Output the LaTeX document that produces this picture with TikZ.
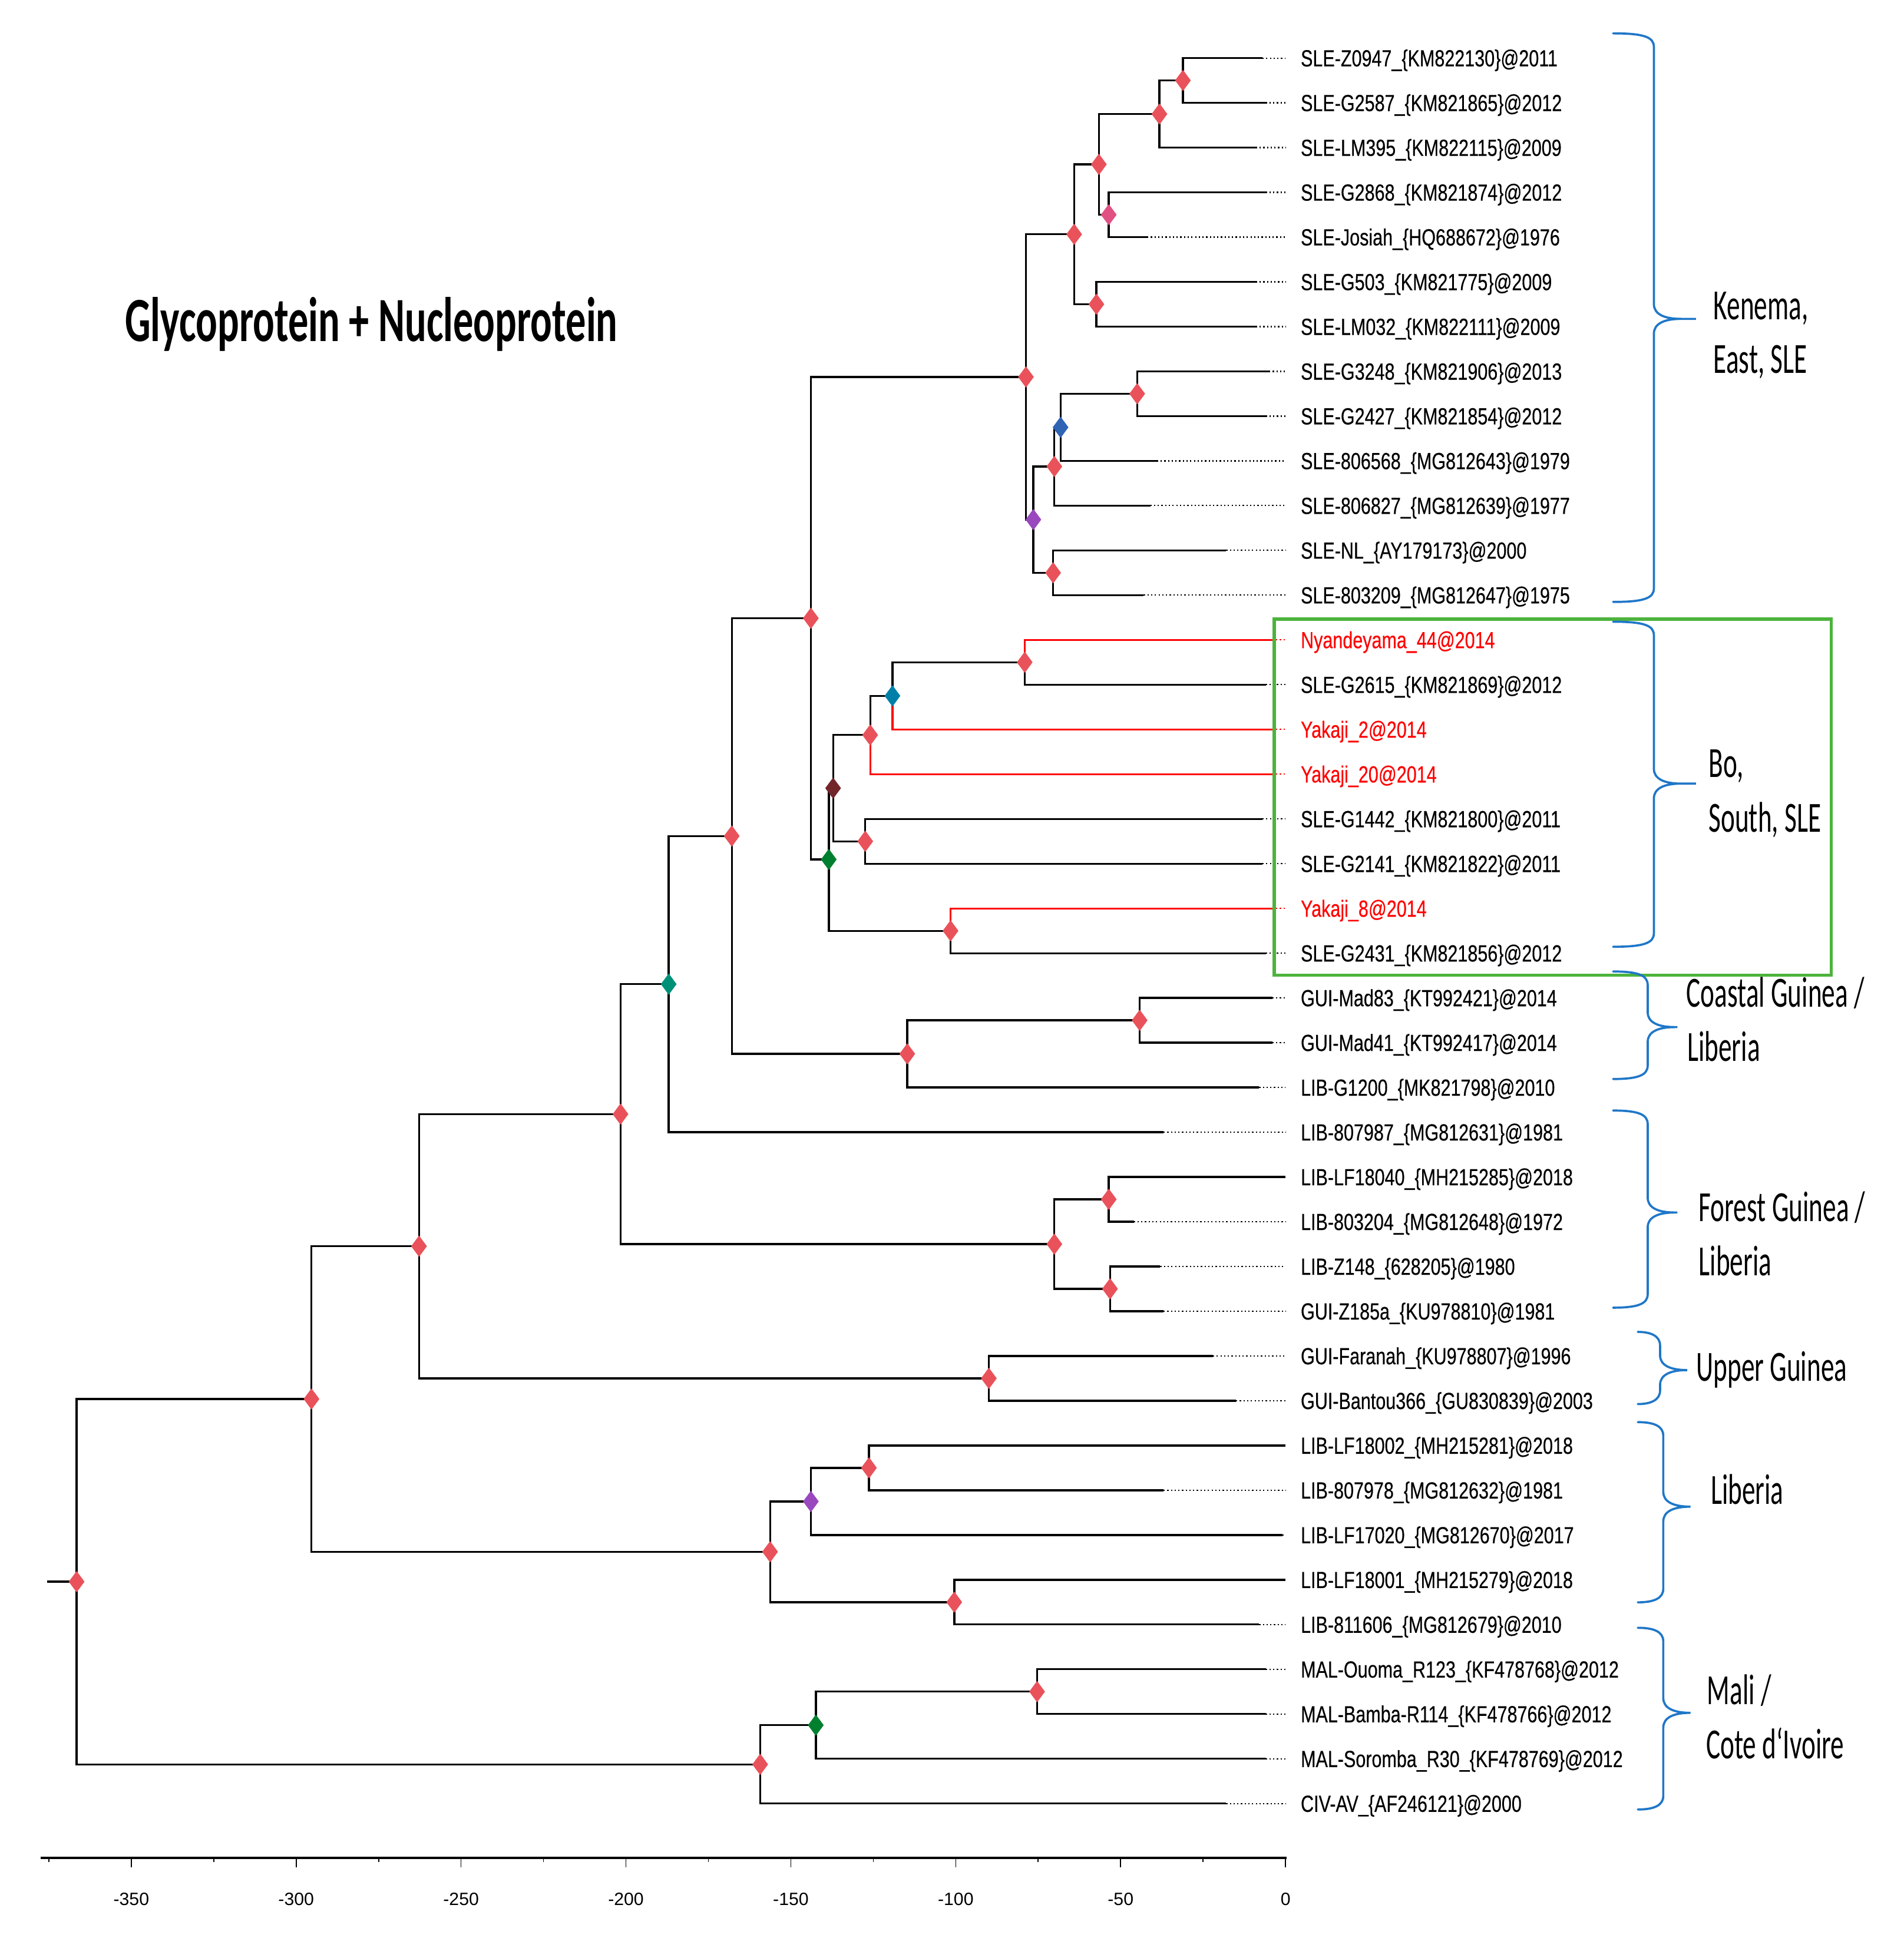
\documentclass[tikz,border=0pt]{standalone}
\usepackage{fontspec}
\usetikzlibrary{shapes.geometric}
\newfontfamily\leaffont[FakeStretch=0.77,FakeBold=0.35]{Liberation Sans}
\newfontfamily\axisfont{Liberation Sans}
\newfontfamily\cladefont[FakeStretch=0.62]{Carlito}
\newfontfamily\titlefont[FakeStretch=0.64]{Carlito}
\definecolor{dred}{HTML}{E9525A}
\definecolor{dpink}{HTML}{E05083}
\definecolor{dblue}{HTML}{2F64B4}
\definecolor{dpurple}{HTML}{9A48BE}
\definecolor{dteal}{HTML}{0080A8}
\definecolor{dmaroon}{HTML}{73262A}
\definecolor{dgreen}{HTML}{00802F}
\definecolor{dtealgreen}{HTML}{009078}
\definecolor{braceblue}{HTML}{1F77C8}
\definecolor{boxgreen}{HTML}{4DB33D}
\newcommand\cbrace[6]{%
  \draw[bracestyle] (#1,#3) .. controls ({#2-8},#3) and (#2,{#3+3}) .. (#2,{#3+11})
    -- (#2,{#4-12}) .. controls (#2,{#4-4}) and ({#2+8},#4) .. ({#2+22},#4) -- (#5,#4)
    -- ({#2+22},#4) .. controls ({#2+8},#4) and (#2,{#4+4}) .. (#2,{#4+12})
    -- (#2,{#6-11}) .. controls (#2,{#6-3}) and ({#2-8},#6) .. (#1,#6);}
\begin{document}
\begin{tikzpicture}[x=0.02cm,y=-0.02cm,
  branch/.style={line width=0.9pt,black},
  redbranch/.style={line width=0.9pt,red},
  tipdots/.style={line width=0.6pt,dash pattern=on 0.6pt off 1.1pt},
  dmd/.style={diamond,draw=none,fill=#1,inner sep=0pt,minimum width=0.26cm,minimum height=0.35cm},
  leaflab/.style={anchor=base west,inner sep=0pt,font=\leaffont\fontsize{10.75pt}{12pt}\selectfont},
  axislab/.style={anchor=base,inner sep=0pt,font=\axisfont\fontsize{8.2pt}{10pt}\selectfont},
  cladelab/.style={anchor=base west,inner sep=0pt,font=\cladefont\fontsize{19.8pt}{24pt}\selectfont},
  bracestyle/.style={line width=1pt,braceblue,line cap=round}
]
\useasboundingbox (0,0) rectangle (1540,1568);

% title
\node[anchor=base west,inner sep=0pt,font=\titlefont\bfseries\fontsize{29pt}{34pt}\selectfont] (title) at (100.8,276) {Glycoprotein + Nucleoprotein};

% leaves
\foreach \i/\yr/\txt/\col in {
 0/2011/SLE-Z0947\_\{KM822130\}/black,
 1/2012/SLE-G2587\_\{KM821865\}/black,
 2/2009/SLE-LM395\_\{KM822115\}/black,
 3/2012/SLE-G2868\_\{KM821874\}/black,
 4/1976/SLE-Josiah\_\{HQ688672\}/black,
 5/2009/SLE-G503\_\{KM821775\}/black,
 6/2009/SLE-LM032\_\{KM822111\}/black,
 7/2013/SLE-G3248\_\{KM821906\}/black,
 8/2012/SLE-G2427\_\{KM821854\}/black,
 9/1979/SLE-806568\_\{MG812643\}/black,
 10/1977/SLE-806827\_\{MG812639\}/black,
 11/2000/SLE-NL\_\{AY179173\}/black,
 12/1975/SLE-803209\_\{MG812647\}/black,
 13/2014/Nyandeyama\_44/red,
 14/2012/SLE-G2615\_\{KM821869\}/black,
 15/2014/Yakaji\_2/red,
 16/2014/Yakaji\_20/red,
 17/2011/SLE-G1442\_\{KM821800\}/black,
 18/2011/SLE-G2141\_\{KM821822\}/black,
 19/2014/Yakaji\_8/red,
 20/2012/SLE-G2431\_\{KM821856\}/black,
 21/2014/GUI-Mad83\_\{KT992421\}/black,
 22/2014/GUI-Mad41\_\{KT992417\}/black,
 23/2010/LIB-G1200\_\{MK821798\}/black,
 24/1981/LIB-807987\_\{MG812631\}/black,
 25/2018/LIB-LF18040\_\{MH215285\}/black,
 26/1972/LIB-803204\_\{MG812648\}/black,
 27/1980/LIB-Z148\_\{628205\}/black,
 28/1981/GUI-Z185a\_\{KU978810\}/black,
 29/1996/GUI-Faranah\_\{KU978807\}/black,
 30/2003/GUI-Bantou366\_\{GU830839\}/black,
 31/2018/LIB-LF18002\_\{MH215281\}/black,
 32/1981/LIB-807978\_\{MG812632\}/black,
 33/2017/LIB-LF17020\_\{MG812670\}/black,
 34/2018/LIB-LF18001\_\{MH215279\}/black,
 35/2010/LIB-811606\_\{MG812679\}/black,
 36/2012/MAL-Ouoma\_R123\_\{KF478768\}/black,
 37/2012/MAL-Bamba-R114\_\{KF478766\}/black,
 38/2012/MAL-Soromba\_R30\_\{KF478769\}/black,
 39/2000/CIV-AV\_\{AF246121\}/black}{
  \coordinate (t\i) at ({1040+2.668*(\yr-2018)},{47+36.21*\i});
  \coordinate (e\i) at (1040,{47+36.21*\i});
  \node[leaflab,text=\col] (l\i) at (1052,{47+36.21*\i+6.7}) {\txt @\yr};
  \draw[tipdots,\col] (t\i) -- (e\i);
}

% internal nodes
\coordinate (A1) at (957,65.1);
\coordinate (A2) at (938,92.26);
\coordinate (A4) at (897,173.74);
\coordinate (A3) at (889,133.0);
\coordinate (A6) at (887,246.16);
\coordinate (A5) at (869,189.58);
\coordinate (B1) at (920,318.58);
\coordinate (B2) at (858,345.73);
\coordinate (B3) at (853,377.42);
\coordinate (B5) at (852,463.42);
\coordinate (B4) at (836,420.42);
\coordinate (A7) at (830,305.0);
\coordinate (C1) at (829,535.84);
\coordinate (C2) at (722,563.0);
\coordinate (C3) at (704,594.68);
\coordinate (C4) at (700,680.68);
\coordinate (C5) at (674,637.68);
\coordinate (C6) at (769,753.1);
\coordinate (C7) at (670.5,695.39);
\coordinate (D1) at (656,500.2);
\coordinate (E1) at (922,825.52);
\coordinate (E2) at (734,852.68);
\coordinate (F1) at (592,676.44);
\coordinate (F2) at (541,796.24);
\coordinate (G1) at (897,970.36);
\coordinate (G2) at (898,1042.78);
\coordinate (G3) at (853,1006.57);
\coordinate (H1) at (502,901.4);
\coordinate (I1) at (800,1115.2);
\coordinate (H2) at (339,1008.3);
\coordinate (J1) at (703,1187.6);
\coordinate (J2) at (656,1214.8);
\coordinate (J3) at (772,1296.25);
\coordinate (J4) at (623,1255.5);
\coordinate (H3) at (252,1131.9);
\coordinate (K1) at (839,1368.67);
\coordinate (K2) at (660,1395.8);
\coordinate (K3) at (615,1427.5);
\coordinate (R) at (62,1279.7);
\coordinate (r0) at (38,1279.7);

% black branches
\foreach \p/\c in {A1/t0,A1/t1,A2/A1,A2/t2,A4/t3,A4/t4,A3/A2,A3/A4,A6/t5,A6/t6,A5/A3,A5/A6,
  B1/t7,B1/t8,B2/B1,B2/t9,B3/B2,B3/t10,B5/t11,B5/t12,B4/B3,B4/B5,A7/A5,A7/B4,
  C1/t14,C2/C1,C3/C2,C4/t17,C4/t18,C5/C3,C5/C4,C6/t20,C7/C5,C7/C6,D1/A7,D1/C7,
  E1/t21,E1/t22,E2/E1,E2/t23,F1/D1,F1/E2,F2/F1,F2/t24,
  G1/t25,G1/t26,G2/t27,G2/t28,G3/G1,G3/G2,H1/F2,H1/G3,I1/t29,I1/t30,H2/H1,H2/I1,
  J1/t31,J1/t32,J2/J1,J2/t33,J3/t34,J3/t35,J4/J2,J4/J3,H3/H2,H3/J4,
  K1/t36,K1/t37,K2/K1,K2/t38,K3/K2,K3/t39,R/H3,R/K3}{
  \draw[branch] (\p) |- (\c);
}
% red branches
\foreach \p/\c in {C1/t13,C2/t15,C3/t16,C6/t19}{
  \draw[redbranch] (\p) |- (\c);
}
\draw[branch] (r0) -- (R);

% diamonds
\foreach \n/\c in {A1/dred,A2/dred,A3/dred,A4/dpink,A5/dred,A6/dred,A7/dred,
  B1/dred,B2/dblue,B3/dred,B4/dpurple,B5/dred,
  C1/dred,C2/dteal,C3/dred,C4/dred,C5/dmaroon,C6/dred,C7/dgreen,D1/dred,
  E1/dred,E2/dred,F1/dred,F2/dtealgreen,G1/dred,G2/dred,G3/dred,H1/dred,
  I1/dred,H2/dred,J1/dred,J2/dpurple,J3/dred,J4/dred,H3/dred,
  K1/dred,K2/dgreen,K3/dred,R/dred}{
  \node[dmd=\c] (d\n) at (\n) {};
}

% axis
\coordinate (ax0) at (33,1503);
\coordinate (ax1) at (1041,1503);
\draw[line width=1.1pt] (ax0) -- (ax1);
\foreach \v [count=\k] in {-350,-300,-250,-200,-150,-100,-50,0}{
  \draw[line width=0.45pt] ({1040+2.668*\v},1503) -- ({1040+2.668*\v},1511);
  \node[axislab] (tk\k) at ({1040+2.668*\v},1541.5) {\v};
}
\foreach \v in {-375,-325,-275,-225,-175,-125,-75,-25}{
  \draw[line width=0.45pt] ({1040+2.668*\v},1503) -- ({1040+2.668*\v},1506.5);
}

% green box
\draw[boxgreen,line width=1.6pt] (1031,501) rectangle (1481.5,789);

% braces
\cbrace{1305}{1338}{27}{258}{1372}{487}
\cbrace{1305}{1338}{503}{634}{1372}{766}
\cbrace{1305}{1333}{786}{831}{1357}{873}
\cbrace{1305}{1333}{898.5}{981}{1357}{1058}
\cbrace{1325}{1343}{1077.6}{1108.5}{1361}{1136}
\cbrace{1325}{1345.6}{1150.6}{1219}{1367}{1296.4}
\cbrace{1325}{1345.6}{1317}{1385.8}{1367}{1464}

% clade labels
\node[cladelab] (k1) at (1386,258.6) {Kenema,};
\node[cladelab] (k2) at (1386,301.8) {East, SLE};
\node[cladelab] (b1) at (1382,628.9) {Bo,};
\node[cladelab] (b2) at (1382,673.2) {South, SLE};
\node[cladelab] (c1) at (1364,814.5) {Coastal Guinea /};
\node[cladelab] (c2) at (1364.7,858.7) {Liberia};
\node[cladelab] (f1) at (1374,988.3) {Forest Guinea /};
\node[cladelab] (f2) at (1374,1032) {Liberia};
\node[cladelab] (u1) at (1372,1117.2) {Upper Guinea};
\node[cladelab] (lb1) at (1383.7,1217) {Liberia};
\node[cladelab] (m1) at (1380.7,1379) {Mali /};
\node[cladelab] (m2) at (1380,1423) {Cote d‘Ivoire};
\end{tikzpicture}
\end{document}
